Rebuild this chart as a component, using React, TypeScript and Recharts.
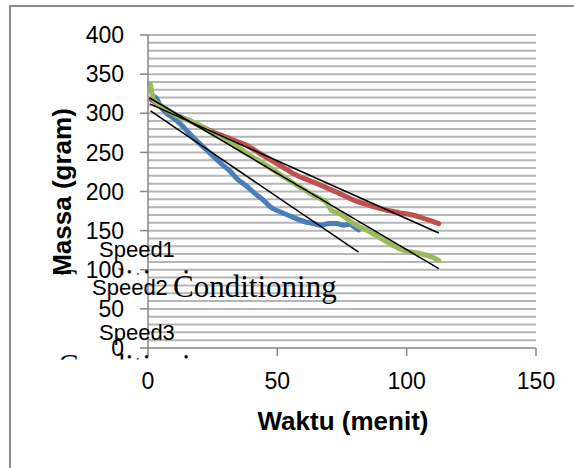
import React from 'react';
import { LineChart, Line, XAxis, YAxis, CartesianGrid } from 'recharts';

// waktu (menit) vs massa (gram)
const speed1 = [
  { x: 2, y: 322 }, { x: 3.5, y: 318 }, { x: 5, y: 308 }, { x: 7.1, y: 300 }, { x: 9.7, y: 294 },
  { x: 12.3, y: 287 }, { x: 15.5, y: 276 }, { x: 18.7, y: 265 }, { x: 22, y: 255 }, { x: 25.2, y: 245 },
  { x: 28.5, y: 235 }, { x: 31.7, y: 226 }, { x: 34.5, y: 216 }, { x: 38.1, y: 207 }, { x: 41.5, y: 197 },
  { x: 44.6, y: 189 }, { x: 47.5, y: 180 }, { x: 51, y: 174 }, { x: 54, y: 170 }, { x: 57.5, y: 165 },
  { x: 61, y: 161 }, { x: 64, y: 159 }, { x: 67, y: 157 }, { x: 70, y: 159 }, { x: 73, y: 159 },
  { x: 75.5, y: 157 }, { x: 78, y: 158 }, { x: 80, y: 154 }, { x: 81.4, y: 151 },
];

const speed2 = [
  { x: 1, y: 318 }, { x: 5, y: 309 }, { x: 10, y: 299 }, { x: 15, y: 292 }, { x: 20, y: 284 },
  { x: 25.2, y: 276 }, { x: 31.7, y: 267.6 }, { x: 38.1, y: 259 }, { x: 44.6, y: 246 }, { x: 51, y: 233.5 },
  { x: 57.5, y: 220.7 }, { x: 64, y: 212 }, { x: 69.8, y: 203.7 }, { x: 75, y: 196 }, { x: 79.5, y: 189 },
  { x: 86, y: 182 }, { x: 92.4, y: 176 }, { x: 97, y: 173 }, { x: 102.7, y: 169.6 }, { x: 108, y: 164 },
  { x: 112.4, y: 159 },
];

const speed3 = [
  { x: 0.6, y: 338 }, { x: 1, y: 336 }, { x: 1.5, y: 325 }, { x: 2, y: 318 }, { x: 5, y: 310 },
  { x: 8, y: 303 }, { x: 12.3, y: 295 }, { x: 16, y: 291 }, { x: 20, y: 284.6 }, { x: 25, y: 274 },
  { x: 31.7, y: 263.3 }, { x: 38, y: 249 }, { x: 44.6, y: 235.6 }, { x: 51, y: 222 }, { x: 57.5, y: 208 },
  { x: 64, y: 195 }, { x: 69.8, y: 183 }, { x: 70.8, y: 176 }, { x: 74, y: 172 }, { x: 79.5, y: 159 },
  { x: 85.9, y: 148.2 }, { x: 92.4, y: 135.5 }, { x: 98.8, y: 124.9 }, { x: 105.3, y: 120.6 }, { x: 110, y: 116 },
  { x: 112.4, y: 112 },
];

// linear trendlines (end points)
const trend1 = [{ x: 1, y: 303 }, { x: 81.4, y: 122.5 }];
const trend2 = [{ x: 0.7, y: 312 }, { x: 112.4, y: 147 }];
const trend3 = [{ x: 0.7, y: 319.5 }, { x: 112.4, y: 101.5 }];

const xTicks = [0, 50, 100, 150];
const yTicks = [0, 50, 100, 150, 200, 250, 300, 350, 400];
const gridValues = [
  10, 20, 30, 40, 50, 60, 70, 80, 90, 100, 110, 120, 130, 140, 150, 160, 170, 180, 190, 200,
  210, 220, 230, 240, 250, 260, 270, 280, 290, 300, 310, 320, 330, 340, 350, 360, 370, 380, 390, 400,
];
const yMax = 400;

const sans = '"Liberation Sans", Arial, sans-serif';
const serif = '"Liberation Serif", "Times New Roman", serif';
const axisGray = '#868686';
const Y_AXIS_W = 148;

const gridLines = ({ yAxis, offset }: any) =>
  gridValues.map((v) =>
    yAxis && typeof yAxis.scale === 'function'
      ? yAxis.scale(v)
      : offset.top + offset.height * (1 - v / yMax)
  );

// labels sit 24px left of the axis line, like excel
const YTick = ({ y, payload }: any) => (
  <text x={Y_AXIS_W - 24} y={y} dy="0.355em" textAnchor="end" fontSize={23} fontFamily={sans} fill="#000">
    {payload.value}
  </text>
);

export default function App() {
  return (
    <div style={{ position: 'absolute', left: 0, top: 0, width: 574, height: 468, background: '#fff' }}>
      <LineChart width={574} height={468} margin={{ top: 35, right: 38, bottom: 0, left: 0 }}>
        <CartesianGrid
          vertical={false}
          horizontalCoordinatesGenerator={gridLines}
          stroke="#b5b5b5"
          strokeWidth={2}
        />
        <XAxis
          dataKey="x"
          type="number"
          domain={[0, 150]}
          ticks={xTicks}
          height={120}
          tickSize={8}
          tickMargin={17}
          stroke={axisGray}
          strokeWidth={1.5}
          tick={{ fontSize: 23, fill: '#000', fontFamily: sans }}
          allowDuplicatedCategory={false}
        />
        <YAxis
          dataKey="y"
          type="number"
          domain={[0, yMax]}
          ticks={yTicks}
          width={Y_AXIS_W}
          tickSize={8}
          stroke={axisGray}
          strokeWidth={1.5}
          tick={<YTick />}
        />
        <Line data={speed1} dataKey="y" type="monotone" stroke="#4a7ebb" strokeWidth={5} strokeLinecap="round" strokeLinejoin="round" dot={false} isAnimationActive={false} />
        <Line data={speed2} dataKey="y" type="monotone" stroke="#c0504d" strokeWidth={5} strokeLinecap="round" strokeLinejoin="round" dot={false} isAnimationActive={false} />
        <Line data={speed3} dataKey="y" type="monotone" stroke="#9bbb59" strokeWidth={5} strokeLinecap="round" strokeLinejoin="round" dot={false} isAnimationActive={false} />
        <Line data={trend1} dataKey="y" type="linear" stroke="#000" strokeWidth={1.5} dot={false} isAnimationActive={false} />
        <Line data={trend2} dataKey="y" type="linear" stroke="#000" strokeWidth={1.5} dot={false} isAnimationActive={false} />
        <Line data={trend3} dataKey="y" type="linear" stroke="#000" strokeWidth={1.5} dot={false} isAnimationActive={false} />
      </LineChart>

      <svg width={574} height={468} style={{ position: 'absolute', left: 0, top: 0, pointerEvents: 'none' }}>
        <defs>
          <clipPath id="clipTop">
            <rect x={0} y={0} width={574} height={274.5} />
          </clipPath>
          <clipPath id="clipBottom">
            <rect x={0} y={0} width={574} height={359.5} />
          </clipPath>
        </defs>
        <rect x={10} y={6} width={620} height={520} fill="none" stroke="#8c8c8c" strokeWidth={2} />

        {/* legend leftovers */}
        <text x={58} y={291} fontFamily={serif} fontSize={31} fill="#000" clipPath="url(#clipTop)">Conditioning</text>
        <text x={58} y={376} fontFamily={serif} fontSize={31} fill="#000" clipPath="url(#clipBottom)">Conditioning</text>
        <text x={99} y={257} fontFamily={sans} fontSize={22} fill="#000">Speed1</text>
        <text x={92} y={295} fontFamily={sans} fontSize={22} fill="#000">Speed2</text>
        <text x={173} y={297} fontFamily={serif} fontSize={31} fill="#000">Conditioning</text>
        <text x={99} y={340} fontFamily={sans} fontSize={22} fill="#000">Speed3</text>

        {/* axis titles */}
        <text x={71} y={192} transform="rotate(-90 71 192)" textAnchor="middle" fontFamily={sans} fontSize={26} fontWeight="bold" fill="#000">Massa (gram)</text>
        <text x={343} y={430} textAnchor="middle" fontFamily={sans} fontSize={26} fontWeight="bold" fill="#000">Waktu (menit)</text>
      </svg>
    </div>
  );
}
